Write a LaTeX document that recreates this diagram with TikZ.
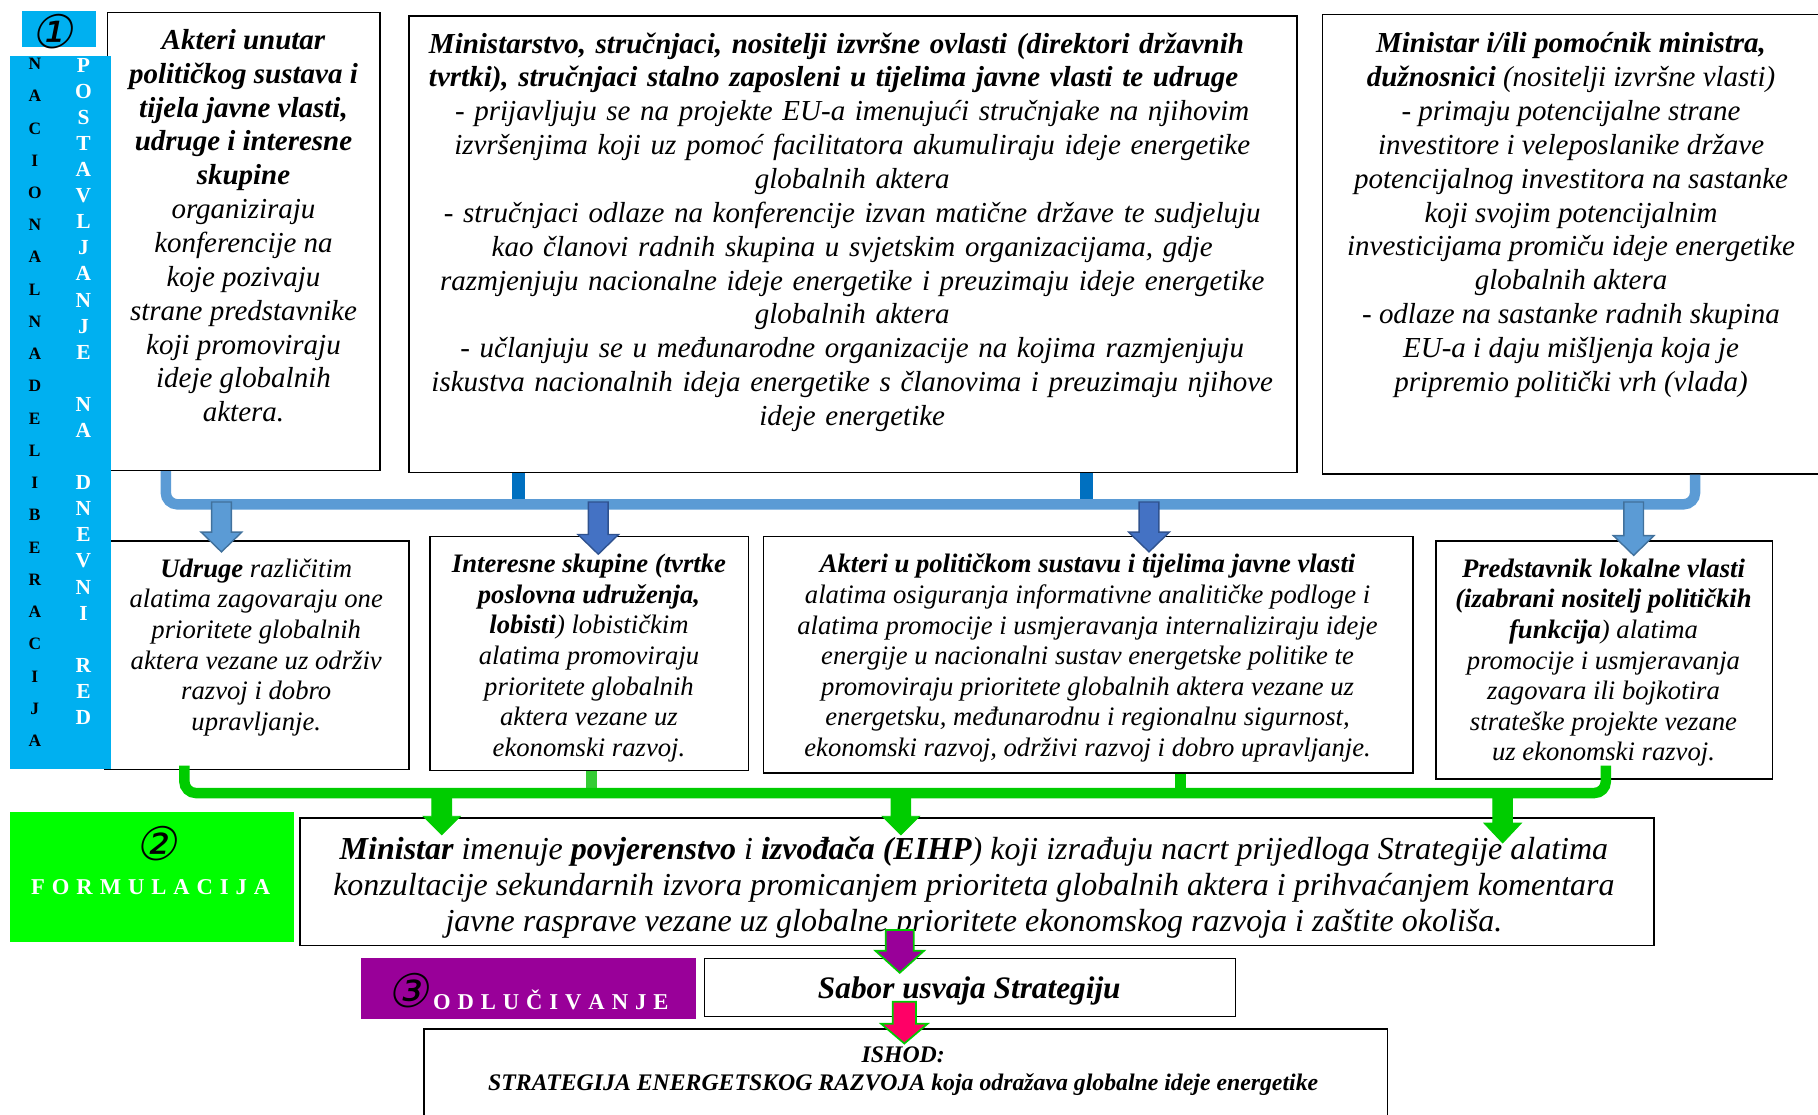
\documentclass[tikz,border=0pt]{standalone}
\usepackage{fontspec}
\setmainfont{Liberation Serif}
\newfontfamily\circfont[FakeSlant=0.2]{DejaVu Sans}
\usetikzlibrary{calc}

\definecolor{barblue}{HTML}{00B0F0}
\definecolor{brblue}{HTML}{5B9BD5}
\definecolor{brbluedk}{HTML}{41719C}
\definecolor{arrblue}{HTML}{4472C4}
\definecolor{arrbluedk}{HTML}{2F528F}
\definecolor{stubblue}{HTML}{0070C0}
\definecolor{brgreen}{HTML}{00CC00}
\definecolor{stubgreen}{HTML}{33CC33}
\definecolor{formgreen}{HTML}{00FF00}
\definecolor{odlpurple}{HTML}{990099}
\definecolor{ishodpink}{HTML}{FF0066}

% block arrow: from, tip, style, shaft half width, head half width, head length
\newcommand{\blockarrow}[6]{%
  \path[#3] let \p1=(#1), \p2=(#2) in
    (\x1-#4pt,\y1) -- (\x1+#4pt,\y1) -- (\x1+#4pt,\y2+#6pt) -- (\x1+#5pt,\y2+#6pt)
    -- (\x1,\y2) -- (\x1-#5pt,\y2+#6pt) -- (\x1-#4pt,\y2+#6pt) -- cycle;}

\begin{document}
\begin{tikzpicture}[x=1pt,y=-1pt,
  box/.style={draw=black, line width=1.3pt, fill=white, inner sep=0pt, anchor=north west},
  txt/.style={align=center, inner sep=0pt, anchor=north, font=\fontsize{25}{29.2}\selectfont\itshape},
  rowtxt/.style={txt, font=\fontsize{23}{26.4}\selectfont\itshape},
  vcol/.style={align=center, inner sep=0pt, anchor=north},
  circnum/.style={inner sep=0pt, font=\circfont\fontsize{40}{40}\selectfont},
  phase/.style={inner sep=0pt, text=white, font=\fontsize{19.5}{20}\selectfont\bfseries},
  bluebracket/.style={draw=brblue, line width=9pt, rounded corners=10pt},
  bluestub/.style={draw=stubblue, line width=11pt},
  greenbracket/.style={draw=brgreen, line width=9pt, rounded corners=10pt},
  greenstub/.style={draw=brgreen, line width=10pt},
  lightarrow/.style={fill=brblue, draw=brbluedk, line width=1.2pt},
  darkarrow/.style={fill=arrblue, draw=arrbluedk, line width=1.2pt},
  greenarrow/.style={fill=brgreen, draw=brgreen, line width=0.8pt},
  purplearrow/.style={fill=odlpurple, draw=brgreen, line width=1.5pt},
  pinkarrow/.style={fill=ishodpink, draw=brgreen, line width=1.5pt}]
\useasboundingbox (0,0) rectangle (1568,961);

% phase 1 boxes
\node[box, minimum width=235pt, minimum height=395pt] (akteri) at (92,10) {};
\node[box, minimum width=766pt, minimum height=394pt] (strucnjaci) at (352,13) {};
\node[box, minimum width=440pt, minimum height=396pt] (ministar) at (1140,12) {};

\node[txt] (akteritxt) at (210,25) {\textbf{Akteri unutar}\\ \textbf{političkog sustava i}\\
  \textbf{tijela javne vlasti,}\\ \textbf{udruge i interesne}\\ \textbf{skupine}\\
  organiziraju\\ konferencije na\\ koje pozivaju\\
  strane predstavnike\\ koji promoviraju\\ ideje globalnih\\ aktera.};
\node[txt, text width=730pt] (strucnjacitxt) at (735,28) {%
  \makebox[730pt][l]{\textbf{Ministarstvo, stručnjaci, nositelji izvršne ovlasti (direktori državnih}}\\
  \makebox[730pt][l]{\textbf{tvrtki), stručnjaci stalno zaposleni u tijelima javne vlasti te udruge}}\\
  - prijavljuju se na projekte EU-a imenujući stručnjake na njihovim\\
  izvršenjima koji uz pomoć facilitatora akumuliraju ideje energetike\\
  globalnih aktera\\
  - stručnjaci odlaze na konferencije izvan matične države te sudjeluju\\
  kao članovi radnih skupina u svjetskim organizacijama, gdje\\
  razmjenjuju nacionalne ideje energetike i preuzimaju ideje energetike\\
  globalnih aktera\\
  - učlanjuju se u međunarodne organizacije na kojima razmjenjuju\\
  iskustva nacionalnih ideja energetike s članovima i preuzimaju njihove\\
  ideje energetike};
\node[txt] (ministartxt) at (1355,28) {\textbf{Ministar i/ili pomoćnik ministra,}\\
  \textbf{dužnosnici} (nositelji izvršne vlasti)\\
  - primaju potencijalne strane\\ investitore i veleposlanike države\\
  potencijalnog investitora na sastanke\\ koji svojim potencijalnim\\
  investicijama promiču ideje energetike\\ globalnih aktera\\
  - odlaze na sastanke radnih skupina\\ EU-a i daju mišljenja koja je\\
  pripremio politički vrh (vlada)};

% phase 1 second row
\node[box, minimum width=262pt, minimum height=197pt] (udruge) at (90,466) {};
\node[box, minimum width=275pt, minimum height=202pt] (interesne) at (370,462) {};
\node[box, minimum width=560pt, minimum height=204pt] (akteripol) at (658,462) {};
\node[box, minimum width=290pt, minimum height=205pt] (lokalna) at (1238,466) {};
\node[rowtxt] (udrugetxt) at (221,481.7)
  {\textbf{Udruge} različitim\\ alatima zagovaraju one\\ prioritete globalnih\\
  aktera vezane uz održiv\\ razvoj i dobro\\ upravljanje.};
\node[rowtxt] (interesnetxt) at (508,477.7)
  {\textbf{Interesne skupine (tvrtke}\\ \textbf{poslovna udruženja,}\\
  \textbf{lobisti}) lobističkim\\ alatima promoviraju\\ prioritete globalnih\\
  aktera vezane uz\\ ekonomski razvoj.};
\node[rowtxt] (akteripoltxt) at (938,477.7)
  {\textbf{Akteri u političkom sustavu i tijelima javne vlasti}\\
  alatima osiguranja informativne analitičke podloge i\\
  alatima promocije i usmjeravanja internaliziraju ideje\\
  energije u nacionalni sustav energetske politike te\\
  promoviraju prioritete globalnih aktera vezane uz\\
  energetsku, međunarodnu i regionalnu sigurnost,\\
  ekonomski razvoj, održivi razvoj i dobro upravljanje.};
\node[rowtxt] (lokalnatxt) at (1383,481.7)
  {\textbf{Predstavnik lokalne vlasti}\\ \textbf{(izabrani nositelj političkih}\\
  \textbf{funkcija}) alatima\\ promocije i usmjeravanja\\ zagovara ili bojkotira\\
  strateške projekte vezane\\ uz ekonomski razvoj.};

% phase bar 1
\node[box, draw=none, fill=barblue, minimum width=87pt, minimum height=615pt] (nacbar) at (8,48) {};
\node[box, draw=none, fill=barblue, minimum width=64pt, minimum height=31pt] (num1) at (18,9) {};
\node[circnum] (c1) at (45,27) {①};
\node[vcol, text=black, font=\fontsize{15}{27.8}\selectfont\bfseries] (nacdel) at (30,50)
  {N\\A\\C\\I\\O\\N\\A\\L\\N\\A\\D\\E\\L\\I\\B\\E\\R\\A\\C\\I\\J\\A};
\node[vcol, text=white, font=\fontsize{18.5}{22.5}\selectfont\bfseries] (dnevni) at (72,50)
  {P\\O\\S\\T\\A\\V\\L\\J\\A\\N\\J\\E\\[22.5pt]N\\A\\[22.5pt]D\\N\\E\\V\\N\\I\\[22.5pt]R\\E\\D};

% phase 2
\node[box, draw=none, fill=formgreen, minimum width=245pt, minimum height=112pt] (formul) at (8,700) {};
\node[circnum] (c2) at (135,728) {②};
\node[phase] (formultxt) at (130,765) {\spaceskip=6pt F O R M U L A C I J A};
\node[box, minimum width=1168pt, minimum height=110pt] (nacrt) at (258,705) {};
\node[txt, font=\fontsize{27.6}{31.2}\selectfont\itshape] (nacrttxt) at (840,721.7)
  {\textbf{Ministar} imenuje \textbf{povjerenstvo} i \textbf{izvođača (EIHP}) koji izrađuju nacrt prijedloga Strategije alatima\\
  konzultacije sekundarnih izvora promicanjem prioriteta globalnih aktera i prihvaćanjem komentara\\
  javne rasprave vezane uz globalne prioritete ekonomskog razvoja i zaštite okoliša.};

% phase 3
\node[box, draw=none, fill=odlpurple, minimum width=289pt, minimum height=52pt] (odluc) at (311,826) {};
\node[circnum] (c3) at (352,854) {③};
\node[phase] (odluctxt) at (475,862) {\spaceskip=6pt O D L U Č I V A N J E};
\node[box, minimum width=458pt, minimum height=50pt] (sabor) at (607,826) {};
\node[inner sep=0pt, anchor=base, font=\fontsize{27}{30}\selectfont\bfseries\itshape] (sabortxt)
  at (836,861) {Sabor usvaja Strategiju};
\node[box, minimum width=831pt, minimum height=100pt] (ishod) at (365,887) {};
\node[txt, font=\fontsize{20.5}{24}\selectfont\bfseries\itshape] (ishodtxt) at (779,903)
  {ISHOD:\\ STRATEGIJA ENERGETSKOG RAZVOJA koja odražava globalne ideje energetike};

% blue bracket
\coordinate (bl) at (143,435);
\coordinate (br) at (1462,435);
\coordinate (s1) at (447,435);
\coordinate (s2) at (937,435);
\draw[bluestub] (s1 |- strucnjaci.south) -- (s1);
\draw[bluestub] (s2 |- strucnjaci.south) -- (s2);
\draw[bluebracket] (bl |- akteri.south) -- (bl) -- (br) -- (br |- ministar.south);
\coordinate (ba1) at (191,433);
\coordinate (ba2) at (516,433);
\coordinate (ba3) at (991,433);
\coordinate (ba4) at (1409,433);
\blockarrow{ba1}{$(ba1 |- udruge.north)+(0,10)$}{lightarrow}{8.5}{17.5}{17}
\blockarrow{ba2}{$(ba2 |- interesne.north)+(0,16)$}{darkarrow}{8.5}{17.5}{17}
\blockarrow{ba3}{$(ba3 |- akteripol.north)+(0,14)$}{darkarrow}{8.5}{17.5}{17}
\blockarrow{ba4}{$(ba4 |- lokalna.north)+(0,13)$}{lightarrow}{8.5}{17.5}{17}

% green bracket
\coordinate (gl) at (159,684);
\coordinate (gr) at (1385,684);
\coordinate (g1) at (510,684);
\coordinate (g2) at (1018,684);
\draw[greenstub, draw=stubgreen] (g1 |- interesne.south) -- (g1);
\draw[greenstub] (g2 |- akteripol.south) -- (g2);
\draw[greenbracket] ($(gl |- udruge.south)+(0,-4)$) -- (gl) -- (gr) -- ($(gr |- lokalna.south)+(0,-12)$);
\coordinate (ga1) at (381,684);
\coordinate (ga2) at (777,684);
\coordinate (ga3) at (1296,684);
\blockarrow{ga1}{$(ga1 |- nacrt.north)+(0,15)$}{greenarrow}{8.5}{16}{16}
\blockarrow{ga2}{$(ga2 |- nacrt.north)+(0,15)$}{greenarrow}{8.5}{16}{16}
\blockarrow{ga3}{$(ga3 |- nacrt.north)+(0,22)$}{greenarrow}{8.5}{16}{17}

% decision arrows
\coordinate (pa) at (776,802);
\coordinate (pk) at (780,864);
\blockarrow{pa}{$(pa |- sabor.north)+(0,13)$}{purplearrow}{12}{21}{19}
\blockarrow{pk}{$(pk |- ishod.north)+(0,13)$}{pinkarrow}{10}{20}{17}
\end{tikzpicture}
\end{document}
